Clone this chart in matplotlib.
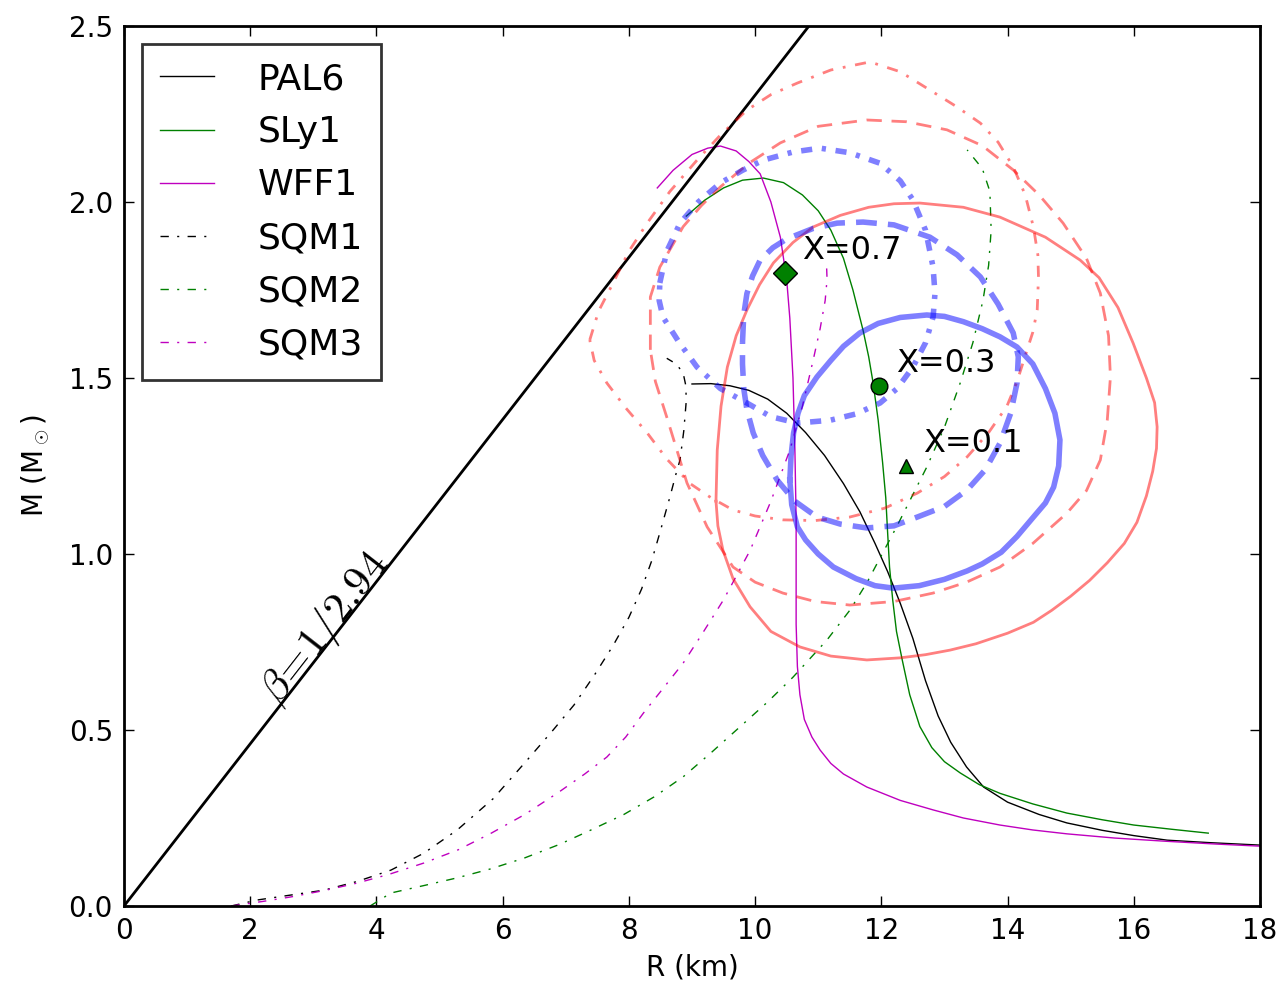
import matplotlib
matplotlib.use("Agg")
import matplotlib.pyplot as plt
import numpy as np

# ---------------- data ----------------
pal6_R = [9.0, 9.3, 9.6, 9.9, 10.2, 10.5, 10.8, 11.1, 11.4, 11.66, 11.9, 12.1, 12.3, 12.5, 12.7, 12.9, 13.1, 13.35, 13.62, 14.0, 14.5, 14.94, 15.5, 16.0, 16.53, 17.2, 18.0]
pal6_M = [1.483, 1.484, 1.478, 1.465, 1.44, 1.40, 1.345, 1.28, 1.2, 1.12, 1.03, 0.95, 0.86, 0.76, 0.64, 0.54, 0.465, 0.395, 0.338, 0.295, 0.26, 0.236, 0.215, 0.2, 0.187, 0.18, 0.173]

sly1_R = [8.91, 9.2, 9.5, 9.8, 10.13, 10.45, 10.75, 11.0, 11.2, 11.4, 11.55, 11.71, 11.8, 11.87, 11.95, 12.02, 12.07, 12.1, 12.13, 12.18, 12.24, 12.33, 12.45, 12.61, 12.8, 13.0, 13.25, 13.55, 13.88, 14.4, 14.94, 15.5, 16.0, 16.6, 17.18]
sly1_M = [1.96, 2.005, 2.04, 2.062, 2.068, 2.055, 2.02, 1.975, 1.92, 1.84, 1.75, 1.636, 1.56, 1.486, 1.38, 1.26, 1.16, 1.06, 0.963, 0.87, 0.78, 0.70, 0.6, 0.51, 0.45, 0.41, 0.378, 0.345, 0.32, 0.29, 0.264, 0.245, 0.23, 0.218, 0.207]

wff1_R = [8.45, 8.7, 9.0, 9.25, 9.45, 9.7, 9.9, 10.08, 10.25, 10.40, 10.5, 10.55, 10.6, 10.63, 10.65, 10.65, 10.65, 10.67, 10.71, 10.78, 10.9, 11.03, 11.2, 11.4, 11.77, 12.3, 12.82, 13.3, 13.88, 14.4, 14.94, 15.7, 16.5, 17.3, 18.0]
wff1_M = [2.04, 2.09, 2.135, 2.153, 2.159, 2.145, 2.115, 2.08, 2.0, 1.90, 1.78, 1.67, 1.5, 1.30, 1.1, 0.95, 0.80, 0.68, 0.6, 0.53, 0.48, 0.443, 0.405, 0.375, 0.338, 0.3, 0.273, 0.25, 0.23, 0.216, 0.205, 0.193, 0.184, 0.176, 0.17]

sqm1_R = [1.7, 2.11, 2.6, 3.17, 3.7, 4.23, 4.75, 5.28, 5.85, 6.39, 6.8, 7.13, 7.45, 7.75, 8.0, 8.2, 8.36, 8.49, 8.65, 8.75, 8.81, 8.87, 8.91, 8.9, 8.86, 8.75, 8.6]
sqm1_M = [0.0, 0.017, 0.03, 0.045, 0.07, 0.102, 0.15, 0.216, 0.305, 0.415, 0.5, 0.571, 0.655, 0.74, 0.82, 0.9, 0.98, 1.06, 1.162, 1.23, 1.267, 1.35, 1.437, 1.48, 1.514, 1.54, 1.556]

sqm2_R = [3.9, 4.23, 4.75, 5.28, 5.8, 6.34, 6.9, 7.4, 7.92, 8.4, 8.86, 9.3, 9.76, 10.2, 10.6, 11.14, 11.5, 11.77, 12.25, 12.72, 13.0, 13.25, 13.45, 13.61, 13.7, 13.74, 13.72, 13.6, 13.36]
sqm2_M = [0.0, 0.037, 0.058, 0.08, 0.105, 0.136, 0.175, 0.216, 0.26, 0.31, 0.367, 0.435, 0.509, 0.58, 0.65, 0.756, 0.84, 0.918, 1.08, 1.247, 1.36, 1.486, 1.6, 1.72, 1.82, 1.92, 2.03, 2.095, 2.148]

sqm3_R = [1.70, 2.2, 2.65, 3.2, 3.69, 4.2, 4.75, 5.3, 5.82, 6.35, 6.87, 7.3, 7.65, 7.95, 8.23, 8.55, 8.86, 9.15, 9.5, 9.92, 10.25, 10.55, 10.75, 10.92, 11.03, 11.11, 11.14, 11.13]
sqm3_M = [0.0, 0.013, 0.026, 0.045, 0.065, 0.09, 0.122, 0.16, 0.207, 0.26, 0.321, 0.375, 0.423, 0.48, 0.548, 0.62, 0.69, 0.77, 0.87, 1.01, 1.15, 1.295, 1.42, 1.551, 1.64, 1.72, 1.78, 1.83]

# confidence contours (blue = inner, red = outer); X = 0.1 solid, 0.3 dashed, 0.7 dash-dot
blue01_R = [10.55, 10.57, 10.61, 10.68, 10.78, 10.98, 11.2, 11.4, 11.66, 11.95, 12.3, 12.72, 13.0, 13.3, 13.6, 13.88, 14.15, 14.4, 14.6, 14.75, 14.83, 14.81, 14.73, 14.6, 14.41, 14.15, 13.9, 13.6, 13.36, 13.0, 12.6, 12.19, 11.9, 11.6, 11.24, 11.0, 10.8, 10.67, 10.58, 10.55]
blue01_M = [1.21, 1.28, 1.344, 1.40, 1.45, 1.503, 1.55, 1.59, 1.628, 1.655, 1.672, 1.679, 1.675, 1.66, 1.64, 1.617, 1.588, 1.54, 1.47, 1.40, 1.324, 1.25, 1.19, 1.145, 1.105, 1.05, 1.005, 0.972, 0.952, 0.928, 0.91, 0.903, 0.91, 0.93, 0.963, 1.0, 1.04, 1.077, 1.14, 1.21]

blue03_R = [9.80, 9.82, 9.87, 9.96, 10.08, 10.28, 10.5, 10.92, 11.3, 11.71, 12.2, 12.77, 13.2, 13.57, 13.85, 14.09, 14.17, 14.15, 14.05, 13.88, 13.65, 13.36, 13.0, 12.57, 12.2, 11.77, 11.35, 10.98, 10.63, 10.35, 10.12, 9.97, 9.87, 9.82, 9.80, 9.80]
blue03_M = [1.60, 1.68, 1.74, 1.79, 1.835, 1.87, 1.895, 1.925, 1.94, 1.943, 1.935, 1.90, 1.85, 1.787, 1.71, 1.628, 1.56, 1.486, 1.40, 1.315, 1.24, 1.182, 1.135, 1.105, 1.08, 1.074, 1.085, 1.105, 1.15, 1.21, 1.28, 1.344, 1.41, 1.47, 1.54, 1.60]

blue07_R = [8.49, 8.6, 8.81, 9.1, 9.45, 9.8, 10.13, 10.6, 11.03, 11.5, 11.98, 12.3, 12.5, 12.7, 12.82, 12.85, 12.82, 12.7, 12.5, 12.25, 11.98, 11.6, 11.19, 10.67, 10.25, 9.87, 9.45, 9.08, 8.8, 8.54, 8.48, 8.49]
blue07_M = [1.77, 1.86, 1.94, 2.0, 2.054, 2.09, 2.119, 2.142, 2.153, 2.14, 2.11, 2.06, 2.006, 1.92, 1.815, 1.74, 1.673, 1.6, 1.531, 1.47, 1.429, 1.398, 1.38, 1.372, 1.39, 1.429, 1.47, 1.531, 1.6, 1.673, 1.72, 1.77]

red01_R = [9.38, 9.40, 9.46, 9.56, 9.7, 9.87, 10.07, 10.29, 10.6, 10.92, 11.35, 11.8, 12.2, 12.61, 13.3, 13.88, 14.6, 15.15, 15.45, 15.75, 15.99, 16.2, 16.33, 16.37, 16.36, 16.3, 16.2, 16.05, 15.85, 15.58, 15.3, 15.0, 14.7, 14.41, 14.0, 13.5, 13.09, 12.7, 12.30, 11.77, 11.2, 10.71, 10.25, 9.92, 9.65, 9.49, 9.41, 9.38]
red01_M = [1.15, 1.295, 1.42, 1.531, 1.62, 1.693, 1.765, 1.827, 1.885, 1.929, 1.962, 1.985, 1.995, 1.997, 1.985, 1.957, 1.9, 1.835, 1.785, 1.7, 1.599, 1.5, 1.43, 1.361, 1.30, 1.235, 1.165, 1.09, 1.03, 0.975, 0.925, 0.88, 0.84, 0.806, 0.775, 0.745, 0.727, 0.714, 0.705, 0.699, 0.71, 0.736, 0.78, 0.85, 0.93, 1.011, 1.08, 1.15]

red03_R = [8.34, 8.34, 8.49, 8.86, 9.15, 9.45, 9.9, 10.4, 11.0, 11.77, 12.4, 13.04, 13.6, 14.09, 14.5, 14.88, 15.25, 15.47, 15.6, 15.63, 15.58, 15.47, 15.25, 14.94, 14.4, 13.88, 13.35, 12.82, 12.2, 11.5, 10.95, 10.44, 10.0, 9.65, 9.24, 8.92, 8.6, 8.42, 8.34]
red03_M = [1.58, 1.73, 1.815, 1.93, 1.99, 2.043, 2.11, 2.168, 2.215, 2.233, 2.228, 2.205, 2.16, 2.091, 2.02, 1.94, 1.84, 1.741, 1.62, 1.503, 1.38, 1.267, 1.18, 1.116, 1.03, 0.963, 0.92, 0.889, 0.865, 0.855, 0.865, 0.889, 0.92, 0.963, 1.077, 1.202, 1.389, 1.49, 1.58]

red07_R = [7.38, 7.52, 7.75, 8.0, 8.29, 8.65, 9.08, 9.45, 9.87, 10.25, 10.67, 11.2, 11.82, 12.3, 12.77, 13.2, 13.57, 13.85, 14.09, 14.28, 14.41, 14.48, 14.49, 14.47, 14.4, 14.31, 14.15, 13.99, 13.7, 13.36, 13.0, 12.57, 12.05, 11.5, 10.95, 10.44, 10.0, 9.65, 9.3, 8.97, 8.6, 8.29, 7.95, 7.65, 7.45, 7.38]
red07_M = [1.608, 1.69, 1.77, 1.86, 1.94, 2.03, 2.119, 2.19, 2.261, 2.305, 2.338, 2.375, 2.398, 2.37, 2.318, 2.27, 2.224, 2.17, 2.1, 2.02, 1.929, 1.85, 1.787, 1.693, 1.63, 1.58, 1.49, 1.42, 1.345, 1.276, 1.22, 1.173, 1.13, 1.105, 1.095, 1.097, 1.108, 1.125, 1.16, 1.2, 1.27, 1.344, 1.415, 1.486, 1.55, 1.608]

marker_R = [12.39, 11.96, 10.48]
marker_M = [1.25, 1.477, 1.798]
marker_labels = ["X=0.1", "X=0.3", "X=0.7"]
marker_symbols = ["^", "o", "D"]

beta_inv = 2.94
GM_SUN_KM = 1.4766

# ---------------- figure ----------------
plt.rcParams['lines.scale_dashes'] = False
plt.rcParams['mathtext.fontset'] = 'cm'
plt.rcParams['font.family'] = 'DejaVu Sans'

fig = plt.figure(figsize=(12.83, 9.88), dpi=100)
ax = fig.add_axes([124/1283, 1 - 906/988, (1260-124)/1283, (906-26)/988])

# EOS curves
dd_thin = (0, (6, 6, 1.5, 6))
ax.plot(pal6_R, pal6_M, color='k', lw=1.0, label='PAL6')
ax.plot(sly1_R, sly1_M, color='#008000', lw=1.0, label='SLy1')
ax.plot(wff1_R, wff1_M, color='#bf00bf', lw=1.0, label='WFF1')
ax.plot(sqm1_R, sqm1_M, color='k', lw=1.0, linestyle=dd_thin, label='SQM1')
ax.plot(sqm2_R, sqm2_M, color='#008000', lw=1.0, linestyle=dd_thin, label='SQM2')
ax.plot(sqm3_R, sqm3_M, color='#bf00bf', lw=1.0, linestyle=dd_thin, label='SQM3')

# compactness line
Rl = np.array([0.0, 18.0])
ax.plot(Rl, Rl / (beta_inv * GM_SUN_KM), color='k', lw=2.0)
ax.text(2.45, 2.45 / (beta_inv * GM_SUN_KM) + 0.005, r'$\beta\!=\!1/2.94$', fontsize=31,
        rotation=52.1, rotation_mode='anchor', ha='left', va='baseline')

# contours
ax.plot(red01_R, red01_M, color='r', alpha=0.5, lw=2.0)
ax.plot(red03_R, red03_M, color='r', alpha=0.5, lw=2.0, linestyle=(0, (11, 7)))
ax.plot(red07_R, red07_M, color='r', alpha=0.5, lw=2.0, linestyle=(0, (8, 7, 2, 7)))
ax.plot(blue01_R, blue01_M, color='b', alpha=0.5, lw=4.0)
ax.plot(blue03_R, blue03_M, color='b', alpha=0.5, lw=4.0, linestyle=(0, (15, 8)))
ax.plot(blue07_R, blue07_M, color='b', alpha=0.5, lw=4.0, linestyle=(0, (8, 7, 3, 7)))

# markers
for r, m, lab, sym in zip(marker_R, marker_M, marker_labels, marker_symbols):
    ms = 12 if sym != '^' else 10
    ax.plot([r], [m], marker=sym, color='#008000', mec='k', mew=1.0, ms=ms, linestyle='none')
    ax.text(r + 0.27, m + 0.065, lab, fontsize=23, ha='left', va='center')

ax.set_xlim(0, 18)
ax.set_ylim(0, 2.5)
ax.set_xticks(np.arange(0, 19, 2))
ax.set_yticks(np.arange(0, 2.51, 0.5))
ax.set_yticklabels([f"{v:.1f}" for v in np.arange(0, 2.51, 0.5)])
ax.tick_params(direction='in', top=True, right=True, length=7, width=1, labelsize=20, pad=8)
for s in ax.spines.values():
    s.set_linewidth(2.0)
ax.set_xlabel('R (km)', fontsize=20, labelpad=6)
ax.set_ylabel(r'M (M$_\odot$)', fontsize=20, labelpad=12)

leg = ax.legend(loc='upper left', fontsize=26, handlelength=1.5, handletextpad=1.2,
                labelspacing=0.53, borderpad=0.5, borderaxespad=0.5, frameon=True,
                fancybox=False)
leg.get_frame().set_edgecolor('k')
leg.get_frame().set_linewidth(2.0)

fig.savefig('out.png', dpi=100)
